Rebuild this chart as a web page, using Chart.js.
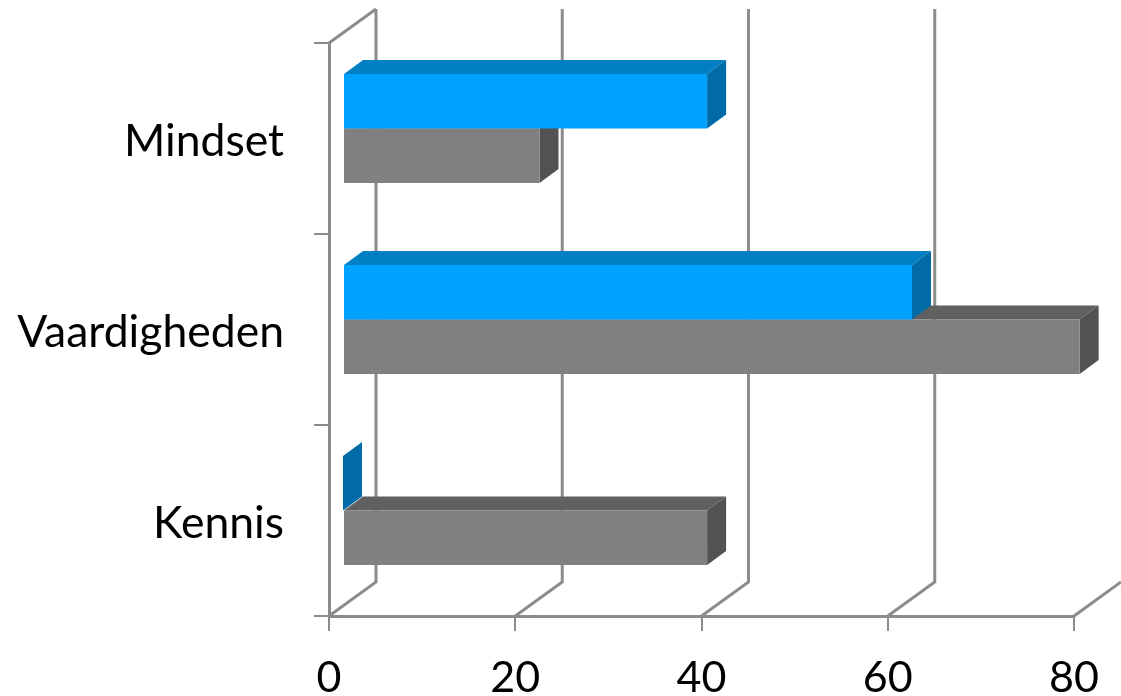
<!DOCTYPE html>
<html>
<head>
<meta charset="utf-8">
<title>Kennis, vaardigheden, mindset</title>
<script src="https://cdn.jsdelivr.net/npm/chart.js@4"></script>
<style>
    html, body { margin: 0; padding: 0; background: #ffffff; }
    canvas { display: block; }
</style>
</head>
<body>
<canvas id="barChart" width="1121" height="696"></canvas>
<script>
const categories = ['Mindset', 'Vaardigheden', 'Kennis'];
const blueValues = [39.1, 61.1, 0];
const grayValues = [21.1, 79.1, 39.1];
const axisMax = 80;
const axisStep = 20;

const lineColor = '#8c8c8c';
const blueFaces = { front: '#00a2ff', top: '#007fc4', side: '#006ba6' };
const grayFaces = { front: '#808080', top: '#606060', side: '#525252' };

// Depth of the back wall, and of the bars standing in front of it
const wallDepth = { x: 47, y: -34 };
const barDepth = { x: 19, y: -14 };
const barShift = { x: 14, y: -10 };

function fillFace(ctx, color, points) {
    ctx.fillStyle = color;
    ctx.beginPath();
    points.forEach((p, i) => (i === 0 ? ctx.moveTo(p[0], p[1]) : ctx.lineTo(p[0], p[1])));
    ctx.closePath();
    ctx.fill();
}

// Back wall and floor lines behind the bars
const wallPlugin = {
    id: 'wall',
    beforeDatasetsDraw(chart) {
        const { ctx, chartArea, scales } = chart;
        const { top, bottom, left } = chartArea;
        ctx.save();
        ctx.strokeStyle = lineColor;
        ctx.lineWidth = 3;
        scales.x.ticks.forEach(tick => {
            const x = scales.x.getPixelForValue(tick.value);
            ctx.beginPath();
            ctx.moveTo(x, bottom);
            ctx.lineTo(x + wallDepth.x, bottom + wallDepth.y);
            if (x + wallDepth.x < chart.width) {
                ctx.lineTo(x + wallDepth.x, top + wallDepth.y);
            }
            ctx.stroke();
        });
        ctx.beginPath();
        ctx.moveTo(left, top);
        ctx.lineTo(left + wallDepth.x, top + wallDepth.y);
        ctx.stroke();
        ctx.restore();
    }
};

// Moves each dataset off the axis and adds top and side faces to its bars
const barFacesPlugin = {
    id: 'barFaces',
    beforeDatasetDraw(chart, args) {
        const { ctx } = chart;
        const faces = chart.data.datasets[args.index].faces;
        ctx.save();
        ctx.translate(barShift.x, barShift.y);
        args.meta.data.forEach(bar => {
            const { x, y, base, height } = bar.getProps(['x', 'y', 'base', 'height']);
            const up = y - height / 2;
            const down = y + height / 2;
            const dx = barDepth.x;
            const dy = barDepth.y;
            if (x > base) {
                fillFace(ctx, faces.top, [[base, up], [x, up], [x + dx, up + dy], [base + dx, up + dy]]);
            }
            fillFace(ctx, faces.side, [[x, up], [x + dx, up + dy], [x + dx, down + dy], [x, down]]);
        });
    },
    afterDatasetDraw(chart) {
        chart.ctx.restore();
    }
};

function createBarChart() {
    const ctxBar = document.getElementById('barChart').getContext('2d');

    new Chart(ctxBar, {
        type: 'bar',
        plugins: [wallPlugin, barFacesPlugin],
        data: {
            labels: categories,
            datasets: [
                {
                    label: 'Blauw',
                    data: blueValues,
                    backgroundColor: blueFaces.front,
                    faces: blueFaces,
                    clip: false,
                },
                {
                    label: 'Grijs',
                    data: grayValues,
                    backgroundColor: grayFaces.front,
                    faces: grayFaces,
                    clip: false,
                },
            ],
        },
        options: {
            indexAxis: 'y',
            responsive: false,
            animation: false,
            categoryPercentage: 0.57,
            barPercentage: 1,
            layout: {
                padding: { top: 43, right: 47, left: 0, bottom: 0 },
            },
            plugins: {
                legend: { display: false },
                tooltip: { enabled: false },
            },
            scales: {
                x: {
                    min: 0,
                    max: axisMax,
                    afterFit: scale => { scale.height = 80; },
                    border: { color: lineColor, width: 3 },
                    grid: {
                        drawOnChartArea: false,
                        color: lineColor,
                        lineWidth: 2,
                        tickLength: 15,
                    },
                    ticks: {
                        stepSize: axisStep,
                        maxRotation: 0,
                        padding: 21,
                        color: '#000000',
                        font: { family: 'Lato', size: 43 },
                    },
                },
                y: {
                    afterFit: scale => {
                        scale.width = 329;
                        scale.paddingTop = 0;
                        scale.paddingBottom = 0;
                    },
                    border: { color: lineColor, width: 3 },
                    grid: {
                        drawOnChartArea: false,
                        color: lineColor,
                        lineWidth: 2,
                        tickLength: 15,
                    },
                    ticks: {
                        padding: 30,
                        labelOffset: 3,
                        color: '#000000',
                        font: { family: 'Lato', size: 44.5 },
                    },
                },
            },
        },
    });
}

document.addEventListener('DOMContentLoaded', createBarChart);
</script>
</body>
</html>
